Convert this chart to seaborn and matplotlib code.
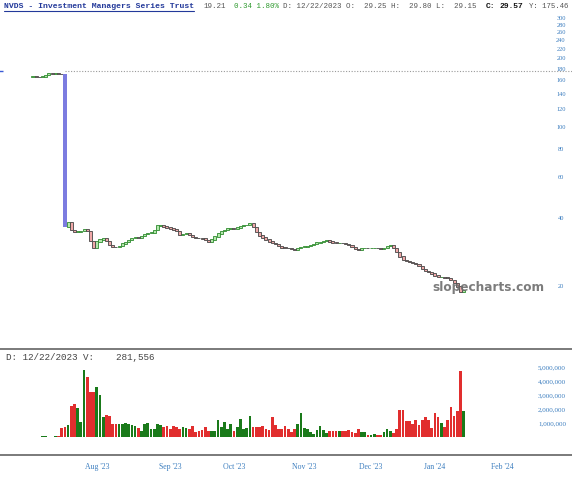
import numpy as np
import pandas as pd
import seaborn as sns
import matplotlib.pyplot as plt
from matplotlib.lines import Line2D

# NVDS daily closes (Jul 2023 - Jan 2024)
closes = [166.0, 165.5, 165.0, 166.5, 169.0, 172.0, 171.0, 171.5, 171.0, 170.5,
          36.5, 38.0, 35.2, 34.5, 34.7, 34.9, 35.6, 34.9, 31.6, 29.4,
          31.4, 32.0, 32.3, 31.5, 30.3, 29.7, 29.6, 29.9, 30.7, 31.2,
          31.8, 32.5, 32.6, 32.5, 33.2, 33.9, 34.2, 34.4, 35.3, 36.8,
          36.9, 36.5, 36.1, 35.7, 35.4, 34.9, 33.7, 33.9, 34.0, 33.4,
          32.8, 32.5, 32.4, 32.3, 31.8, 31.2, 32.0, 33.0, 34.0, 34.8,
          35.3, 35.7, 36.0, 35.8, 36.1, 36.7, 37.0, 37.1, 37.6, 36.4,
          34.6, 33.3, 32.6, 32.0, 31.4, 30.9, 30.5, 30.0, 29.5, 29.4,
          29.3, 29.0, 28.9, 29.3, 29.6, 29.8, 30.0, 30.3, 30.6, 31.0,
          31.1, 31.5, 31.8, 31.3, 31.0, 30.9, 30.9, 30.8, 30.6, 30.2,
          29.6, 29.1, 28.8, 29.3, 29.4, 29.3, 29.4, 29.4, 29.3, 29.2,
          29.4, 30.0, 30.2, 29.4, 28.2, 26.9, 26.0, 25.7, 25.5, 25.2,
          24.9, 24.5, 23.7, 23.3, 23.0, 22.7, 22.2, 21.9, 21.9, 21.8,
          21.7, 21.2, 20.6, 19.9, 18.87, 19.21]
first_open = 165.0

# daily volume in millions
volume_m = [0.03, 0.02, 0.02, 0.05, 0.04, 0.03, 0.02, 0.04, 0.05, 0.65,
            0.7, 0.85, 2.25, 2.35, 2.1, 1.1, 4.8, 4.3, 3.2, 3.2,
            3.6, 3.0, 1.45, 1.6, 1.5, 0.95, 0.95,
            0.9, 0.9, 1.0, 0.95, 0.85, 0.8, 0.62, 0.4, 0.9, 1.0,
            0.55, 0.55, 0.9, 0.85, 0.7, 0.8, 0.6, 0.8, 0.72, 0.55,
            0.75, 0.62, 0.55, 0.78, 0.35, 0.45, 0.5, 0.75, 0.45, 0.45,
            0.45, 1.2, 0.7, 1.1, 0.55, 0.9, 0.45, 0.7, 1.3,
            0.55, 0.65, 1.5, 0.7, 0.7, 0.75, 0.8, 0.55, 0.5, 1.4,
            0.85, 0.6, 0.6, 0.8, 0.55, 0.35, 0.55, 0.95, 1.7, 0.65,
            0.55, 0.35, 0.25, 0.5, 0.8, 0.5, 0.3, 0.4, 0.4, 0.4,
            0.4, 0.4, 0.45, 0.5, 0.35, 0.3, 0.6, 0.35, 0.35, 0.15,
            0.15, 0.25, 0.15, 0.15, 0.35, 0.55, 0.4, 0.3, 0.55, 1.95,
            1.95, 1.15, 1.15, 0.95, 1.25, 0.85, 1.25, 1.4, 1.2, 0.65,
            1.75, 1.45, 1.0, 0.75, 1.2, 2.15, 1.5, 1.85, 4.7, 1.85]

price_ticks = [20, 40, 60, 80, 100, 120, 140, 160, 180, 200, 220, 240, 260, 280, 300]
volume_ticks = [1e6, 2e6, 3e6, 4e6, 5e6]
ref_level = 175.46
holidays = ['2023-07-04', '2023-09-04', '2023-11-23', '2023-12-25', '2024-01-01', '2024-01-15']
month_starts = ['2023-08-01', '2023-09-01', '2023-10-01', '2023-11-01',
                '2023-12-01', '2024-01-01', '2024-02-01']
drop_day = 10

# trading calendar -> bar index positions
cal = pd.bdate_range('2023-07-03', '2024-02-29')
cal = cal[~cal.isin(pd.to_datetime(holidays))]
n = len(closes)
df = pd.DataFrame({'date': cal[:n], 'close': closes, 'volume': np.array(volume_m) * 1e6})
df['idx'] = np.arange(n)
df['open'] = [first_open] + closes[:-1]
df['dir'] = np.where(df['close'] >= df['open'], 'up', 'down')

sns.set_theme(style='white')
plt.rcParams['font.family'] = ['Liberation Serif', 'DejaVu Serif']

W, H = 572, 480
fig = plt.figure(figsize=(W / 100, H / 100), dpi=100)
ax = fig.add_axes([0, 132 / H, 1, 348 / H])
axv = fig.add_axes([0, 25 / H, 1, 106 / H])

xlim = (-33 / 3.19, (W - 33) / 3.19)
tick_blue = '#3b7dbf'
pt = 100 / 72  # pixels per point

# ---- price panel (candles) ----
ax.set_yscale('log')
body_lo = df[['open', 'close']].min(axis=1)
body_hi = df[['open', 'close']].max(axis=1)
for kind, face, edge in [('up', '#b4e8ac', '#2d8a2d'), ('down', '#f0a8a8', '#444444')]:
    m = (df['dir'] == kind) & (df['idx'] != drop_day)
    ax.bar(df['idx'][m], (body_hi - body_lo)[m] + body_lo[m] * 0.004, bottom=body_lo[m],
           width=0.95, color=face, edgecolor=edge, linewidth=0.6, zorder=3)
d = df.loc[drop_day]
ax.bar(d['idx'], d['open'] - d['close'], bottom=d['close'], width=1.4,
       color='#7c7ce0', edgecolor='none', zorder=4)
ax.plot([drop_day, xlim[1]], [ref_level, ref_level], ls=(0, (1, 1.5)), color='#9a9a9a', lw=0.8)
ax.plot([xlim[0] + 0.2], [ref_level], marker='_', color='#3b5bd6', ms=2.5, mew=1.0, clip_on=False)

ax.set_xlim(xlim)
ax.set_ylim(10.7, 361)
ax.set_yticks(price_ticks)
ax.set_yticks([], minor=True)
ax.set_yticklabels([str(t) for t in price_ticks])
ax.yaxis.tick_right()
ax.tick_params(axis='y', length=0, pad=-(W - 561) / pt, labelsize=4.6, labelcolor=tick_blue)
for lab in ax.get_yticklabels():
    lab.set_horizontalalignment('center')
ax.set_xticks([])
ax.set_xlabel('')
ax.set_ylabel('')
for s in ax.spines.values():
    s.set_visible(False)

ax.text(488, H - 288, 'slopecharts.com', transform=None, fontsize=8.7, fontweight='bold',
        color='#6e6e6e', alpha=0.9, ha='center', va='center', family='DejaVu Sans', zorder=10)

# ---- volume panel ----
sns.barplot(data=df, x='idx', y='volume', hue='dir', palette={'up': '#0a8a0a', 'down': '#ff1010'},
            native_scale=True, width=0.85, dodge=False, errorbar=None, legend=False,
            linewidth=0, ax=axv)
axv.set_xlim(xlim)
axv.set_ylim(-18 / 14 * 1e6, (437 - 349) / 14 * 1e6)
axv.set_yticks(volume_ticks)
axv.set_yticklabels([f'{int(t):,}' for t in volume_ticks])
axv.yaxis.tick_right()
axv.tick_params(axis='y', length=0, pad=-(W - 538) / pt, labelsize=5.0, labelcolor=tick_blue)
for lab in axv.get_yticklabels():
    lab.set_horizontalalignment('left')

mpos = [cal.searchsorted(pd.Timestamp(m)) for m in month_starts]
axv.set_xticks(mpos)
axv.set_xticklabels([pd.Timestamp(m).strftime("%b '%y") for m in month_starts])
axv.tick_params(axis='x', length=0, pad=6, labelsize=5.6, labelcolor=tick_blue)
axv.set_xlabel('')
axv.set_ylabel('')
for side in ['left', 'right']:
    axv.spines[side].set_visible(False)
for side in ['top', 'bottom']:
    axv.spines[side].set_color('#707070')
    axv.spines[side].set_linewidth(1.3)

axv.text(6, H - 358, 'D: 12/22/2023 V:    281,556', transform=None, family='Liberation Mono',
         fontsize=6.7, color='#444444', va='center', ha='left')

# ---- header line ----
mono = 'Liberation Mono'
hy = H - 7
title = fig.text(4 / W, hy / H, 'NVDS - Investment Managers Series Trust', family=mono,
                 fontsize=5.85, fontweight='bold', color='#23399a', va='center')
pieces = [(204, '19.21', '#555555', 'normal', 5.45),
          (234, '0.34 1.80%', '#2f9a2f', 'normal', 5.45),
          (283, 'D: 12/22/2023 O:  29.25 H:  29.80 L:  29.15', '#555555', 'normal', 5.45),
          (486, 'C:', '#111111', 'bold', 5.8),
          (500, '29.57', '#111111', 'bold', 5.8),
          (529, 'Y: 175.46', '#555555', 'normal', 5.3)]
for x, s, c, w, fs in pieces:
    fig.text(x / W, hy / H, s, family=mono, fontsize=fs, fontweight=w, color=c, va='center')

fig.canvas.draw()
bb = title.get_window_extent()
fig.add_artist(Line2D([bb.x0 / W, bb.x1 / W], [(bb.y0 - 0.5) / H] * 2,
                      color='#23399a', lw=0.8))

fig.savefig('out.png', dpi=100)
